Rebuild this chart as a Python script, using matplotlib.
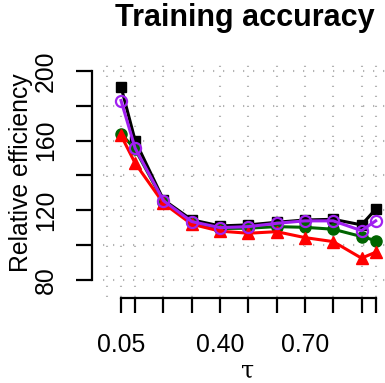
import matplotlib
matplotlib.use('Agg')
import matplotlib.pyplot as plt

plt.rcParams['font.family'] = ['Liberation Sans', 'DejaVu Sans']

tau = [0.05, 0.10, 0.20, 0.30, 0.40, 0.50, 0.60, 0.70, 0.80, 0.90, 0.95]
tau_labels = ['0.05', '', '', '', '0.40', '', '', '0.70', '', '', '']
eff_black = [191, 160, 126, 114.5, 111, 111.6, 113.1, 114.4, 114.8, 111.6, 120.6]
eff_purple = [183, 155.6, 125.5, 113.5, 110, 110.6, 112.5, 113.9, 113.9, 108.3, 113.9]
eff_green = [164, 155, 125, 113, 109.5, 109.7, 110.6, 110.2, 109.1, 104.9, 102.6]
eff_red = [163, 147, 124, 112, 108, 106.8, 107.7, 104.3, 102, 92.5, 95.9]
y_ticks = [80, 100, 120, 140, 160, 180, 200]
y_labels = ['80', '', '120', '', '160', '', '200']

fig = plt.figure(figsize=(3.85, 3.83), dpi=100)
ax = fig.add_axes([103/385, 1 - 297/383, 282/385, 239/383])

# dotted grid like R's grid()
grid_style = dict(color='#b4b4b4', lw=1.5, linestyle=(0, (0.6, 4.2)), zorder=0)
for gx in [0.0] + tau:
    ax.axvline(gx, **grid_style)
for gy in y_ticks:
    ax.axhline(gy, **grid_style)

ax.plot(tau, eff_black, color='black', lw=2.2, marker='s', ms=7.5)
ax.plot(tau, eff_green, color='#006400', lw=2.2, marker='o', ms=8)
ax.plot(tau, eff_red, color='red', lw=2.2, marker='^', ms=8.5)
ax.plot(tau, eff_purple, color='#A020F0', lw=2.2, marker='o', ms=8,
        mfc='none', mew=1.6)

ax.set_xlim(-0.0136, 0.983)
ax.set_ylim(70.2, 207.4)

for s in ['top', 'right']:
    ax.spines[s].set_visible(False)
ax.spines['left'].set_position(('outward', 8))
ax.spines['left'].set_bounds(80, 200)
ax.spines['bottom'].set_position(('outward', 1))
ax.spines['bottom'].set_bounds(0.05, 0.95)
ax.spines['left'].set_linewidth(1.6)
ax.spines['bottom'].set_linewidth(1.6)

ax.set_xticks(tau)
ax.set_xticklabels(tau_labels)
ax.set_yticks(y_ticks)
ax.set_yticklabels(y_labels, rotation=90, va='center')
ax.tick_params(axis='x', length=10.8, width=1.6, pad=14, labelsize=17.8)
ax.tick_params(axis='y', length=11.5, width=1.6, pad=13, labelsize=17.8)

fig.text(245/385, 1 - 18/383, 'Training accuracy', ha='center', va='center',
         fontsize=22, fontweight='bold')
fig.text(21/385, 1 - 173/383, 'Relative efficiency', ha='center', va='center',
         rotation=90, fontsize=17.8)
fig.text(248/385, 0.0, 'τ', ha='center', va='bottom', fontsize=17,
         family='DejaVu Serif')

fig.savefig('out.png', dpi=100)
